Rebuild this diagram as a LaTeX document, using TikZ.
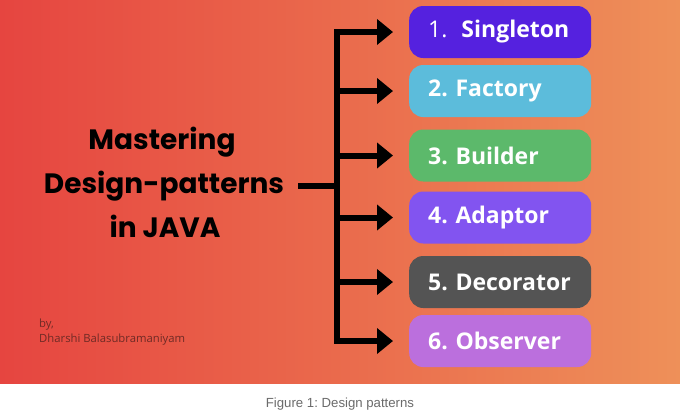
\documentclass[tikz,border=0pt]{standalone}
\usepackage{fontspec}
\setmainfont{Poppins}
\newfontfamily\boxfont{Open Sans}
\newfontfamily\capfont{Liberation Sans}
\newfontfamily\byfont{Open Sans}
\usetikzlibrary{arrows.meta}
\frenchspacing
\hyphenpenalty=10000

\definecolor{bgleft}{HTML}{E64540}
\definecolor{bgright}{HTML}{EE9059}
\definecolor{pone}{HTML}{5521DF}
\definecolor{ptwo}{HTML}{5CBCDB}
\definecolor{pthree}{HTML}{5CB96B}
\definecolor{pfour}{HTML}{8254F0}
\definecolor{pfive}{HTML}{545454}
\definecolor{psix}{HTML}{BB6FDD}
\definecolor{bytext}{HTML}{6E2A25}
\definecolor{captext}{HTML}{6B6B6B}

\tikzset{
  patbox/.style={anchor=west, rounded corners=14pt, minimum height=52pt,
    text width=144pt, inner xsep=19pt, inner ysep=0pt, align=left,
    text=white, font=\boxfont\fontsize{23}{26}\selectfont\bfseries},
  titleline/.style={anchor=base, inner sep=0pt, font=\fontsize{28}{30}\selectfont\bfseries},
  byline/.style={anchor=base west, inner sep=0pt, text=bytext, font=\byfont\fontsize{11.3}{13}\selectfont},
  stem/.style={line width=6pt},
}

\begin{document}
\begin{tikzpicture}[x=1pt, y=-1pt, >={Triangle[length=16pt, width=25pt]}]
        \useasboundingbox[fill=white] (0,0) rectangle (680,413);

        % Sfondo sfumato
        \shade[left color=bgleft, right color=bgright] (0,0) rectangle (680,383);

        % Titolo
        \node[titleline] (ttl1) at (162,149) {Mastering};
        \node[titleline] (ttl2) at (164,193) {Design-patterns};
        \node[titleline] (ttl3) at (165,237) {in JAVA};

        % Autore
        \node[byline] (by1) at (39,327) {by,};
        \node[byline] (by2) at (39,342) {Dharshi Balasubramaniyam};

        % I sei pattern
        \node[patbox, fill=pone] (b1) at (409,32) {\mdseries 1.\hspace{14pt}\bfseries Singleton};
        \node[patbox, fill=ptwo] (b2) at (409,91) {2. Factory};
        \node[patbox, fill=pthree] (b3) at (409,155.5) {3. Builder};
        \node[patbox, fill=pfour] (b4) at (409,217.5) {4. Adaptor};
        \node[patbox, fill=pfive] (b5) at (409,282) {5. Decorator};
        \node[patbox, fill=psix] (b6) at (409,341) {6. Observer};

        % Tronco e frecce
        \coordinate (hub) at (336.5,186);
        \draw[stem, shorten <=14pt] (ttl2.east |- hub) -- (hub);
        \draw[stem, ->, shorten >=16pt] (b6.west -| hub) -- (b1.west -| hub) -- (b1.west);
        \draw[stem, ->, shorten >=16pt] (b1.west -| hub) -- (b6.west -| hub) -- (b6.west);
        \foreach \i in {2,...,5}
            \draw[stem, ->, shorten >=16pt] (b\i.west -| hub) -- (b\i.west);

        % Didascalia
        \node[anchor=base, inner sep=0pt, text=captext, font=\capfont\fontsize{13.2}{15}\selectfont] (cap) at (340,407) {Figure 1: Design patterns};
    \end{tikzpicture}
\end{document}
